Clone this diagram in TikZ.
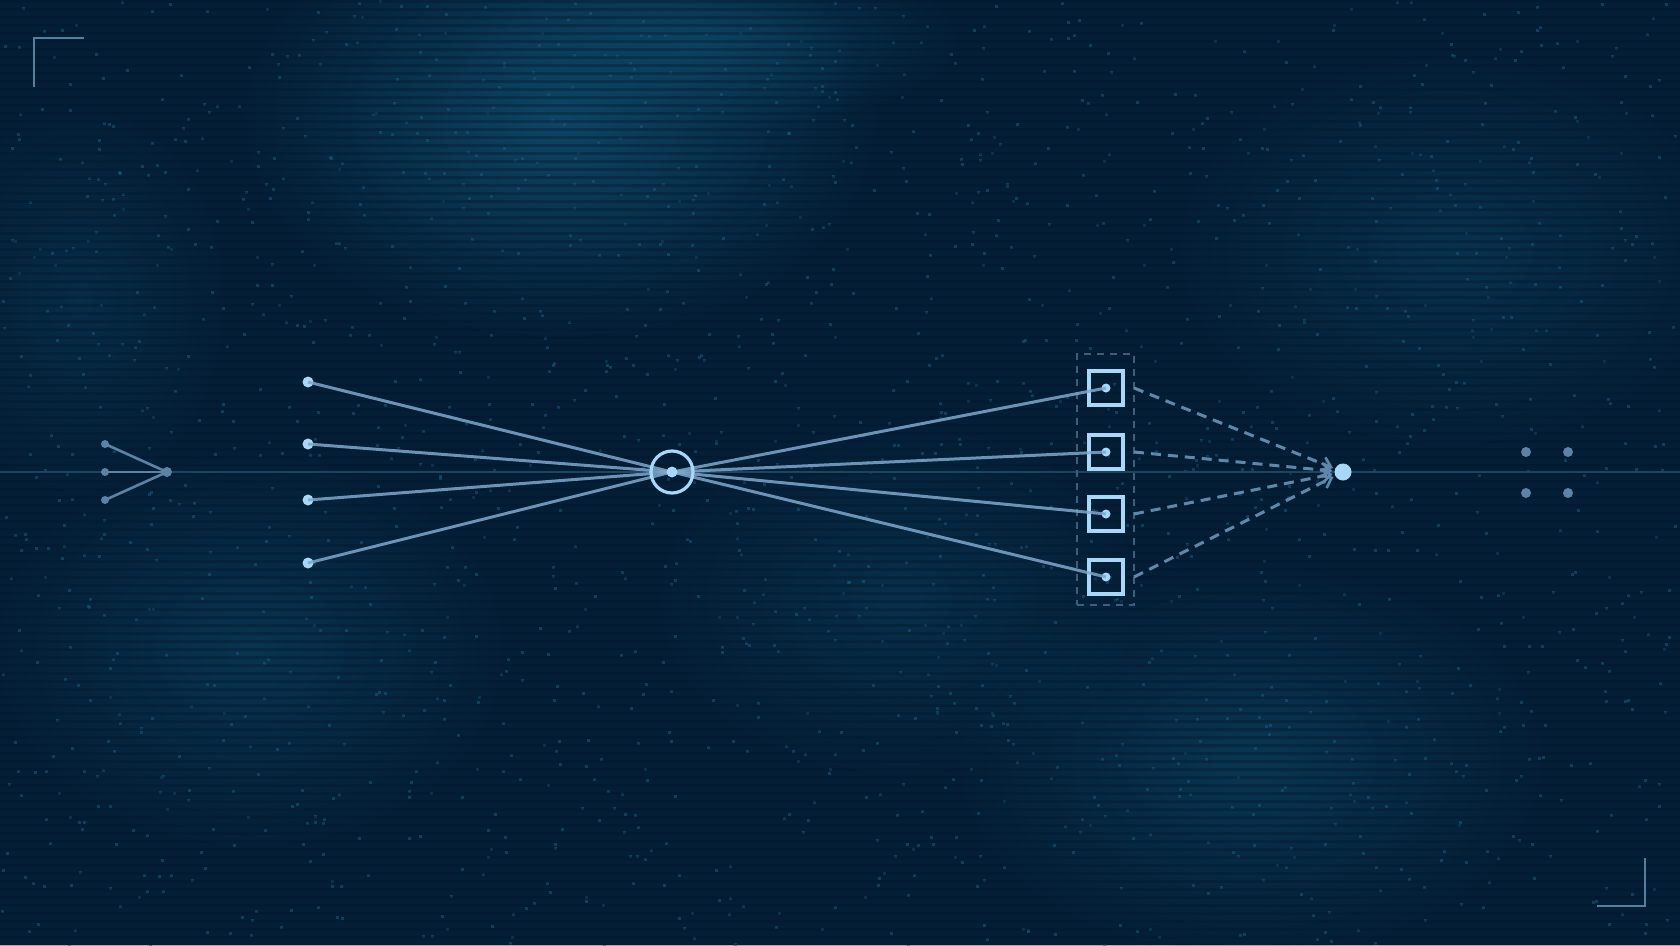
\documentclass[tikz,border=0pt]{standalone}
\usetikzlibrary{arrows.meta,fadings}
\definecolor{bg}{HTML}{041E36}
\definecolor{blob}{HTML}{0F4A6A}
\definecolor{speck}{HTML}{1A5A7C}
\definecolor{scan}{HTML}{02182C}
\definecolor{axis}{HTML}{1A4660}
\definecolor{fan}{HTML}{7FA8CC}
\definecolor{dotc}{HTML}{A8D8F8}
\definecolor{dash}{HTML}{5F88A8}
\definecolor{grp}{HTML}{3E5F7C}
\definecolor{mark}{HTML}{587E9E}
\definecolor{small}{HTML}{5C82A4}
\tikzfading[name=softblob, inner color=transparent!0, outer color=transparent!100]
\tikzset{
  fanline/.style={draw=fan, line width=3pt, opacity=0.85},
  srcdot/.style={circle, fill=dotc, inner sep=0pt, minimum size=11pt},
  hubring/.style={circle, draw=dotc, line width=3.2pt, minimum size=42pt, inner sep=0pt},
  hubdot/.style={circle, fill=dotc, inner sep=0pt, minimum size=11pt},
  unitbox/.style={draw=dotc, line width=3.4pt, minimum size=34pt, inner sep=0pt},
  unitdot/.style={circle, fill=dotc, inner sep=0pt, minimum size=9pt},
  dashline/.style={draw=dash, line width=3pt, dash pattern=on 10pt off 7pt, -{Straight Barb[length=9pt,width=14pt,line width=2.6pt]}},
  grpbox/.style={draw=grp, line width=2.6pt, dash pattern=on 7pt off 6pt},
  target/.style={circle, fill=dotc, inner sep=0pt, minimum size=17pt},
  smalldot/.style={circle, fill=small, inner sep=0pt, minimum size=8pt},
  smallline/.style={draw=small, line width=2.6pt},
  cornermark/.style={draw=mark, line width=2.6pt},
  greydot/.style={circle, fill=small, inner sep=0pt, minimum size=10pt},
  blobstyle/.style={fill=blob, path fading=softblob},
}
\begin{document}
\begin{tikzpicture}[x=1pt,y=-1pt]
\useasboundingbox (0,0) rectangle (1680,945);
\fill[bg] (0,0) rectangle (1680,945);
% soft textured areas
\fill[blobstyle, opacity=0.9] (560,120) ellipse (320 and 220);
\fill[blobstyle, opacity=0.7] (700,40) ellipse (260 and 90);
\fill[blobstyle, opacity=0.5] (250,650) ellipse (260 and 200);
\fill[blobstyle, opacity=0.55] (1250,760) ellipse (300 and 200);
\fill[blobstyle, opacity=0.45] (1450,250) ellipse (280 and 200);
\fill[blobstyle, opacity=0.4] (900,600) ellipse (250 and 180);
\fill[blobstyle, opacity=0.35] (80,300) ellipse (150 and 200);
% speckle
\pgfmathsetseed{7}
\foreach \i in {1,...,1800} {
  \pgfmathsetmacro{\px}{random(0,1680)}
  \pgfmathsetmacro{\py}{random(0,945)}
  \fill[speck, opacity=0.55] (\px,\py) rectangle ++(2.5,2.5);
}
% scanlines
\foreach \yy in {0,8,...,944} {\fill[scan, opacity=0.35] (0,\yy) rectangle (1680,\yy+3);}
% axis
\draw[axis, line width=1.6pt] (0,472) -- (1680,472);
% corner marks
\coordinate (tlA) at (34,87); \coordinate (tlB) at (34,38); \coordinate (tlC) at (84,38);
\draw[cornermark] (tlA) -- (tlB) -- (tlC);
\coordinate (brA) at (1645,858); \coordinate (brB) at (1645,906); \coordinate (brC) at (1597,906);
\draw[cornermark] (brA) -- (brB) -- (brC);
% small left fan
\node[smalldot, minimum size=10pt] (h0) at (167,472) {};
\node[smalldot] (l1) at (105,444) {};
\node[smalldot] (l2) at (105,472) {};
\node[smalldot] (l3) at (105,500) {};
\foreach \n in {l1,l2,l3} {\draw[smallline] (\n.center) -- (h0.center);}
% main hub
\coordinate (hc) at (672,472);
\node[srcdot] (s1) at (308,382) {};
\node[srcdot] (s2) at (308,444) {};
\node[srcdot] (s3) at (308,500) {};
\node[srcdot] (s4) at (308,563) {};
% units
\node[grpbox, minimum width=57pt, minimum height=251pt, inner sep=0pt] (grp) at (1105.5,479.5) {};
\node[unitbox] (u1) at (1106,388) {};
\node[unitbox] (u2) at (1106,452) {};
\node[unitbox] (u3) at (1106,514) {};
\node[unitbox] (u4) at (1106,577) {};
\node[unitdot] (d1) at (1106,388) {};
\node[unitdot] (d2) at (1106,452) {};
\node[unitdot] (d3) at (1106,514) {};
\node[unitdot] (d4) at (1106,577) {};
\foreach \n in {s1,s2,s3,s4} {\draw[fanline] (\n.center) -- (hc);}
\foreach \n in {d1,d2,d3,d4} {\draw[fanline] (hc) -- (\n.center);}
\node[hubring] (ring) at (hc) {};
\node[hubdot] (hd) at (hc) {};
% target
\node[target] (t) at (1343,472) {};
\coordinate (e1) at (1134,388);
\coordinate (e2) at (1134,452);
\coordinate (e3) at (1134,514);
\coordinate (e4) at (1134,577);
\foreach \n in {e1,e2,e3,e4} {\draw[dashline, shorten >=2pt] (\n) -- (t);}
% right grey dots
\node[greydot] (g1) at (1526,452) {};
\node[greydot] (g2) at (1568,452) {};
\node[greydot] (g3) at (1526,493) {};
\node[greydot] (g4) at (1568,493) {};
\end{tikzpicture}
\end{document}
